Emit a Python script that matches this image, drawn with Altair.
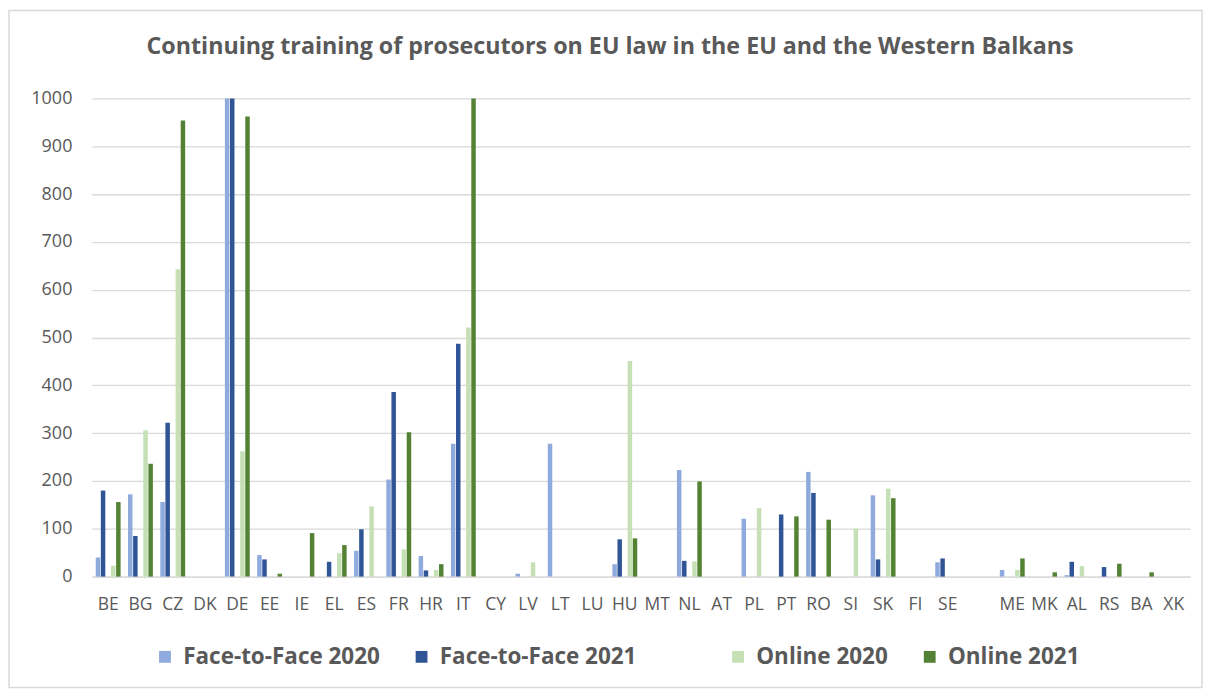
import altair as alt
import pandas as pd

categories = ["BE", "BG", "CZ", "DK", "DE", "EE", "IE", "EL", "ES", "FR", "HR", "IT",
              "CY", "LV", "LT", "LU", "HU", "MT", "NL", "AT", "PL", "PT", "RO", "SI",
              "SK", "FI", "SE", " ", "ME", "MK", "AL", "RS", "BA", "XK"]

ftf_2020 = [40, 172, 156, None, 1000, 45, None, None, 54, 203, 43, 278,
            None, 6, 278, None, 26, None, 223, None, 121, None, 219, None,
            170, None, 30, None, 14, None, 3, None, None, None]
ftf_2021 = [180, 85, 322, None, 1000, 36, None, 31, 99, 386, 13, 487,
            None, None, None, None, 78, None, 33, None, None, 130, 175, None,
            36, None, 38, None, None, None, 31, 20, None, None]
online_2020 = [23, 306, 643, None, 262, None, None, 49, 147, 57, 14, 521,
               None, 30, None, None, 451, None, 32, None, 143, None, None, 100,
               184, None, None, None, 14, None, 22, None, None, None]
online_2021 = [156, 236, 954, None, 962, 6, 91, 66, None, 302, 26, 1000,
               None, None, None, None, 80, None, 199, None, None, 126, 119, None,
               164, None, None, None, 38, 9, None, 27, 9, None]

series_names = ["Face-to-Face 2020", "Face-to-Face 2021", "  ", "Online 2020", "Online 2021"]
series_colors = ["#8faadc", "#2f5597", "#ffffff", "#c5e0b4", "#548235"]
series_values = {
    "Face-to-Face 2020": ftf_2020,
    "Face-to-Face 2021": ftf_2021,
    "Online 2020": online_2020,
    "Online 2021": online_2021,
}

rows = []
for name, vals in series_values.items():
    for c, v in zip(categories, vals):
        if v is not None:
            rows.append({"country": c, "series": name, "value": v})
df = pd.DataFrame(rows)

FONT = "Open Sans"
GREY = "#595959"

bars = alt.Chart(df).mark_bar().encode(
    x=alt.X("country:N", sort=categories,
            scale=alt.Scale(domain=categories, paddingInner=0.23, paddingOuter=0.12),
            axis=alt.Axis(title=None, labelAngle=0, labelFontSize=17.5, labelColor=GREY,
                          labelFont=FONT, ticks=False, domainColor="#d9d9d9",
                          domainWidth=1.3, labelPadding=19)),
    xOffset=alt.XOffset("series:N", scale=alt.Scale(domain=series_names, paddingInner=0.12)),
    y=alt.Y("value:Q", scale=alt.Scale(domain=[0, 1000], clamp=True, nice=False),
            axis=alt.Axis(title=None, values=list(range(0, 1001, 100)), format="d",
                          labelFontSize=18, labelColor=GREY, labelFont=FONT, ticks=False,
                          domain=False, gridColor="#d9d9d9", gridWidth=1.3,
                          labelPadding=20)),
    color=alt.Color("series:N",
                    scale=alt.Scale(domain=series_names, range=series_colors),
                    legend=alt.Legend(title=None, orient="none", legendX=62, legendY=548,
                                      direction="horizontal", columns=5, columnPadding=30,
                                      symbolType="square", symbolSize=140,
                                      symbolStrokeWidth=0, labelFontSize=22.5,
                                      labelFontWeight="bold", labelColor=GREY,
                                      labelFont=FONT, labelOffset=7, labelLimit=400)),
)

frame = alt.Chart(pd.DataFrame({"a": [0]})).mark_rect(
    fill="transparent", stroke="#d9d9d9", strokeWidth=1.5
).encode(x=alt.value(-83), x2=alt.value(1112), y=alt.value(-88), y2=alt.value(590))

chart = alt.layer(frame, bars).properties(
    width=1100, height=479,
    title=alt.TitleParams(
        "Continuing training of prosecutors on EU law in the EU and the Western Balkans",
        fontSize=23.3, fontWeight="bold", color=GREY, font=FONT, anchor="middle",
        dx=-31, offset=-50),
    padding={"left": 84, "top": 90, "right": 14, "bottom": 112},
    autosize=alt.AutoSizeParams(type="none"),
).configure_view(stroke=None)

chart.save("out.html", embed_options={"renderer": "svg", "actions": False})
